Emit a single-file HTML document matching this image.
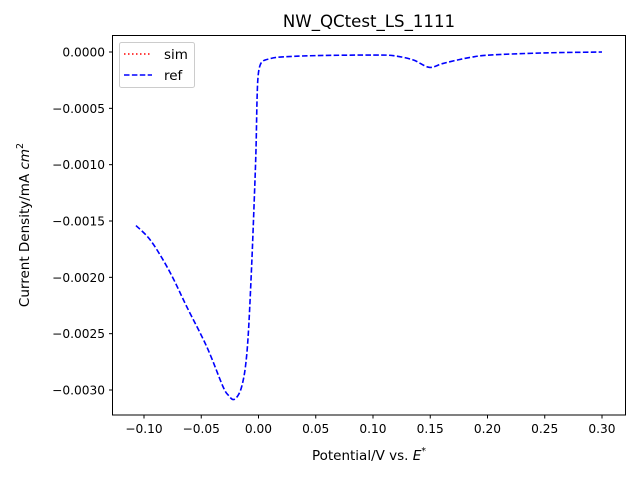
<!DOCTYPE html>
<html><head><meta charset="utf-8"><style>
body{margin:0;background:#fff;}
svg text{font-family:"DejaVu Sans","Liberation Sans",sans-serif;}
</style></head><body>
<svg width="640" height="480" viewBox="0 0 640 480">
<rect width="640" height="480" fill="#fff"/>
<g id="ticks"></g>
<path id="refline" fill="none" stroke="#0000ff" stroke-width="1.6" stroke-dasharray="5.5,2.4"/>
<path id="simline" fill="none" stroke="#ff0000" stroke-width="1.5" stroke-dasharray="1.5,2.5" opacity="0"/>
<rect x="112.5" y="35.5" width="513" height="379.5" fill="none" stroke="#000" stroke-width="1"/>
<text x="369" y="27" font-size="16.6" text-anchor="middle">NW_QCtest_LS_1111</text>
<text x="369" y="460" font-size="13.5" text-anchor="middle">Potential/V vs. <tspan font-style="italic">E</tspan><tspan font-size="9.5" dy="-6">*</tspan></text>
<text transform="translate(29,225) rotate(-90)" font-size="13.5" text-anchor="middle">Current Density/mA <tspan font-style="italic">cm</tspan><tspan font-size="9.5" dy="-6">2</tspan></text>
<g>
<rect x="119.5" y="42.5" width="75" height="45" rx="2" fill="#fff" stroke="#ccc"/>
<line x1="124" y1="54" x2="152" y2="54" stroke="#ff0000" stroke-width="1.5" stroke-dasharray="1.5,2.5"/>
<text x="164" y="59" font-size="13.5">sim</text>
<line x1="124" y1="75" x2="152" y2="75" stroke="#0000ff" stroke-width="1.6" stroke-dasharray="5.5,2.4"/>
<text x="164" y="80" font-size="13.5">ref</text>
</g>
</svg>
<script>
const xs=[-0.107,-0.096,-0.086,-0.075,-0.0627,-0.045,-0.031,-0.026,-0.022,-0.018,-0.0147,-0.0115,-0.0089,-0.006,-0.0037,-0.0022,-0.0013,-0.0004,0.0013,0.004,0.009,0.019,0.05,0.1,0.118,0.135,0.149,0.160,0.172,0.185,0.202,0.25,0.30];
const ys=[-0.00154,-0.00165,-0.0018,-0.002,-0.00226,-0.00262,-0.00297,-0.00305,-0.003085,-0.00305,-0.00297,-0.0028,-0.0025,-0.0019,-0.00131,-0.00087,-0.00043,-0.00022,-0.00012,-0.00008,-0.000062,-0.000045,-0.000032,-0.000027,-0.000033,-0.00007,-0.000136,-0.000105,-0.000075,-0.000048,-0.000027,-0.000008,0];
const xTicks=[-0.10,-0.05,0.00,0.05,0.10,0.15,0.20,0.25,0.30];
const xTickLabels=["−0.10","−0.05","0.00","0.05","0.10","0.15","0.20","0.25","0.30"];
const yTicks=[0,-0.0005,-0.001,-0.0015,-0.002,-0.0025,-0.003];
const yTickLabels=["0.0000","−0.0005","−0.0010","−0.0015","−0.0020","−0.0025","−0.0030"];
const X=v=>258.5+v*1145, Y=v=>52-v*112667;
const ns="http://www.w3.org/2000/svg";
const g=document.getElementById('ticks');
function mk(t,a){const e=document.createElementNS(ns,t);for(const k in a)e.setAttribute(k,a[k]);g.appendChild(e);return e;}
xTicks.forEach((v,i)=>{
 const l=mk('line',{x1:X(v),x2:X(v),y1:415,y2:418.5,stroke:'#000'});
 
 
 const t=mk('text',{x:X(v),y:433,'font-size':12.2,'text-anchor':'middle'});t.textContent=xTickLabels[i];
 
 
});
yTicks.forEach((v,i)=>{
 const l=mk('line',{x1:109,x2:112.5,y1:Y(v),y2:Y(v),stroke:'#000'});
 
 
 const t=mk('text',{x:105,y:Y(v)+4.5,'font-size':12.2,'text-anchor':'end'});t.textContent=yTickLabels[i];
 
 
});
const P=xs.map((x,i)=>[X(x),Y(ys[i])]);
let d='M'+P[0][0].toFixed(2)+','+P[0][1].toFixed(2);
for(let i=0;i<P.length-1;i++){
 const p0=P[Math.max(0,i-1)],p1=P[i],p2=P[i+1],p3=P[Math.min(P.length-1,i+2)];
 const c1=[p1[0]+(p2[0]-p0[0])/6,p1[1]+(p2[1]-p0[1])/6];
 const c2=[p2[0]-(p3[0]-p1[0])/6,p2[1]-(p3[1]-p1[1])/6];
 d+=' C'+c1.map(v=>v.toFixed(2)).join(',')+' '+c2.map(v=>v.toFixed(2)).join(',')+' '+p2.map(v=>v.toFixed(2)).join(',');
}
document.getElementById('refline').setAttribute('d',d);
document.getElementById('simline').setAttribute('d',d);
</script>
</body></html>
